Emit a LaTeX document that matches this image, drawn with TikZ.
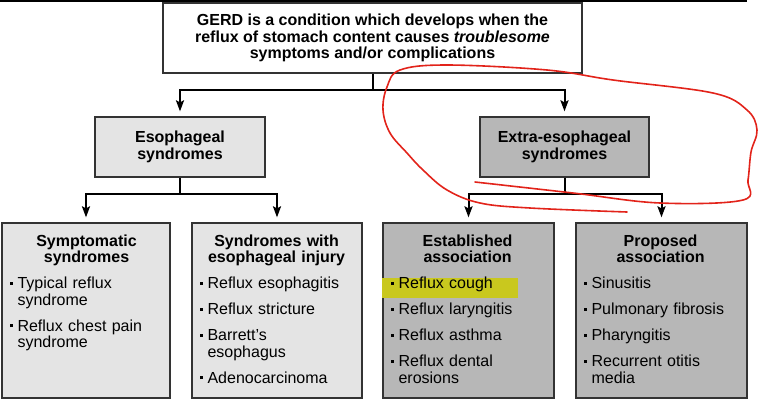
\documentclass[tikz,border=0pt]{standalone}
\usepackage{fontspec}
\setmainfont{Liberation Sans}
\usetikzlibrary{arrows.meta}

\definecolor{lightbox}{HTML}{E4E4E4}
\definecolor{darkbox}{HTML}{B7B7B7}
\definecolor{marker}{HTML}{C9C81E}
\definecolor{pen}{HTML}{E2231A}

\newcommand{\boxhead}[1]{{\centering\bfseries #1\par}}
\newcommand{\entry}[1]{\par\vspace{9.5pt}\hangindent=8pt\hangafter=1\noindent
  \makebox[8pt][l]{\rule[4pt]{3pt}{3pt}}#1\par}

\begin{document}
\begin{tikzpicture}[x=1pt,y=-1pt,
    every node/.style={font=\fontsize{16}{16.5}\selectfont},
    frame/.style={draw=black!80,line width=1.3pt,inner sep=0pt},
    listtext/.style={anchor=north west,inner sep=0pt,text width=154pt},
    link/.style={line width=2pt},
    arrow/.style={line width=2pt,-{Stealth[length=11pt,width=8pt,inset=2pt]},shorten >=5pt}]
  \useasboundingbox (0,0) rectangle (759,400);

  \draw[line width=1.5pt] (0,1) -- (747,1);

  \node[frame,fill=white,minimum width=419pt,minimum height=70pt,align=center,
        font=\fontsize{16}{16.3}\selectfont\bfseries] (gerd) at (372.5,38)
    {GERD is a condition which develops when the\\
     reflux of stomach content causes \textit{troublesome}\\
     symptoms and/or complications};

  \node[frame,fill=lightbox,minimum width=170pt,minimum height=60pt,align=center,
        font=\fontsize{16}{16.8}\selectfont\bfseries] (eso) at (180,147)
    {Esophageal\\syndromes};
  \node[frame,fill=darkbox,minimum width=169pt,minimum height=60pt,align=center,
        font=\fontsize{16}{16.8}\selectfont\bfseries] (extra) at (564.5,147)
    {Extra-esophageal\\syndromes};

  \node[frame,fill=lightbox,minimum width=168pt,minimum height=175pt] (sympt)  at (86,310.5) {};
  \node[frame,fill=lightbox,minimum width=170pt,minimum height=175pt] (injury) at (277,310.5) {};
  \node[frame,fill=darkbox,minimum width=171pt,minimum height=175pt] (estab)  at (468.5,310.5) {};
  \node[frame,fill=darkbox,minimum width=171pt,minimum height=175pt] (propo)  at (661.5,310.5) {};

  % highlight on the first established item
  \fill[marker] (382,278) rectangle (518,298);

  \node[listtext] (symptxt) at ([xshift=8pt,yshift=-12pt]sympt.north west)
    {\boxhead{Symptomatic\\syndromes}
     \entry{Typical reflux\newline syndrome}
     \entry{Reflux chest pain\newline syndrome}};
  \node[listtext] (injurytxt) at ([xshift=8pt,yshift=-12pt]injury.north west)
    {\boxhead{Syndromes with\\esophageal injury}
     \entry{Reflux esophagitis}
     \entry{Reflux stricture}
     \entry{Barrett's\newline esophagus}
     \entry{Adenocarcinoma}};
  \node[listtext] (estabtxt) at ([xshift=8pt,yshift=-12pt]estab.north west)
    {\boxhead{Established\\association}
     \entry{Reflux cough}
     \entry{Reflux laryngitis}
     \entry{Reflux asthma}
     \entry{Reflux dental\newline erosions}};
  \node[listtext] (propotxt) at ([xshift=8pt,yshift=-12pt]propo.north west)
    {\boxhead{Proposed\\association}
     \entry{Sinusitis}
     \entry{Pulmonary fibrosis}
     \entry{Pharyngitis}
     \entry{Recurrent otitis\newline media}};

  \draw[link] (gerd.south) -- ++(0,16) coordinate (j1);
  \draw[arrow] (j1) -| (eso.north);
  \draw[arrow] (j1) -| (extra.north);

  \draw[link] (eso.south) -- ++(0,16) coordinate (j2);
  \draw[arrow] (j2) -| (sympt.north);
  \draw[arrow] (j2) -| (injury.north);

  \draw[link] (extra.south) -- ++(0,16) coordinate (j3);
  \draw[arrow] (j3) -| (estab.north);
  \draw[arrow] (j3) -| (propo.north);

  % red pen loop
  \draw[pen,line width=1.6pt,line cap=round] plot[smooth,tension=0.6] coordinates {
    (475,182) (573,193) (660,203) (743,200) (748,180) (751,152) (757,130)
    (747,110) (713,93) (613,80) (547,70) (447,65) (400,70) (387,87) (383,110)
    (390,133) (407,153) (423,170) (447,190) (480,203) (530,208) (627,212)};
\end{tikzpicture}
\end{document}
